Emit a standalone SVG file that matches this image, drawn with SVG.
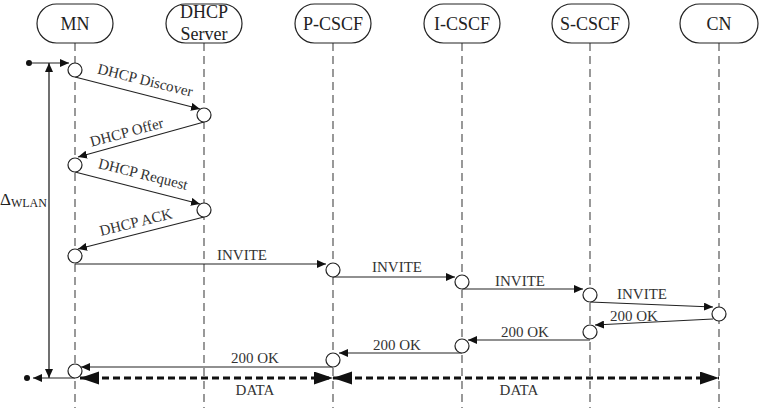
<svg xmlns="http://www.w3.org/2000/svg" width="760" height="408" viewBox="0 0 760 408">
<defs>
<style>
.box{fill:#fff;stroke:#222;stroke-width:1.2}
.hd{font-family:'Liberation Serif','DejaVu Serif','Times New Roman',serif;font-size:18px;fill:#222;text-anchor:middle}
.lbl{font-family:'Liberation Serif','DejaVu Serif','Times New Roman',serif;font-size:15px;fill:#333;text-anchor:middle}
.dl{font-family:'Liberation Serif','DejaVu Serif','Times New Roman',serif;fill:#222}
.life{stroke:#555;stroke-width:1.2;stroke-dasharray:8 5;fill:none}
.msg{stroke:#222;stroke-width:1.2;fill:none;marker-end:url(#a)}
.data{stroke:#111;stroke-width:3;stroke-dasharray:7 4;fill:none;marker-start:url(#b);marker-end:url(#b)}
.act{fill:#fff;stroke:#222;stroke-width:1.2}
</style>
<marker id="a" markerUnits="userSpaceOnUse" markerWidth="10" markerHeight="8" refX="9" refY="4" orient="auto-start-reverse"><path d="M0,0 L9,4 L0,8 z" fill="#111"/></marker>
<marker id="b" markerUnits="userSpaceOnUse" markerWidth="20" markerHeight="14" refX="19" refY="6.5" orient="auto-start-reverse"><path d="M0,0 L19,6.5 L0,13 z" fill="#111"/></marker>
</defs>
<g id="lifelines">
<line class="life" x1="75" y1="43" x2="75" y2="408"/>
<line class="life" x1="204" y1="43" x2="204" y2="408"/>
<line class="life" x1="333" y1="43" x2="333" y2="408"/>
<line class="life" x1="462" y1="43" x2="462" y2="408"/>
<line class="life" x1="590" y1="43" x2="590" y2="408"/>
<line class="life" x1="719" y1="43" x2="719" y2="408"/>
</g>
<g id="MN"><rect class="box" x="37" y="4" width="76" height="39" rx="19.5"/><text class="hd" x="75" y="30">MN</text></g>
<g id="DHCP"><rect class="box" x="166" y="4" width="76" height="39" rx="19.5"/><text class="hd" x="204" y="18">DHCP</text><text class="hd" x="204" y="40">Server</text></g>
<g id="PCSCF"><rect class="box" x="295" y="4" width="76" height="39" rx="19.5"/><text class="hd" x="333" y="30">P-CSCF</text></g>
<g id="ICSCF"><rect class="box" x="424" y="4" width="76" height="39" rx="19.5"/><text class="hd" x="462" y="30">I-CSCF</text></g>
<g id="SCSCF"><rect class="box" x="552" y="4" width="77" height="39" rx="19.5"/><text class="hd" x="590" y="30">S-CSCF</text></g>
<g id="CN"><rect class="box" x="680" y="4" width="78" height="39" rx="19.5"/><text class="hd" x="719" y="30">CN</text></g>
<g id="connectors">
<circle cx="29" cy="63" r="3" fill="#111"/>
<path class="msg" d="M29,63 L69,63"/>
<path d="M49,63 L49,378" stroke="#111" stroke-width="1.2" fill="none" marker-start="url(#a)" marker-end="url(#a)"/>
<path class="msg" d="M75,378 L33,378"/>
<circle cx="27" cy="378" r="3" fill="#111"/>
<path class="msg" d="M75,77 L200,109"/>
<path class="msg" d="M204,122 L78,157"/>
<path class="msg" d="M75,172 L200,204"/>
<path class="msg" d="M204,217 L78,249"/>
<path class="msg" d="M75,264 L326,264"/>
<path class="msg" d="M333,277 L455,277"/>
<path class="msg" d="M462,289 L583,289"/>
<path class="msg" d="M590,302 L713,307"/>
<path class="msg" d="M713,319 L595,325"/>
<path class="msg" d="M590,340 L468,340"/>
<path class="msg" d="M462,353 L339,353"/>
<path class="msg" d="M333,367 L81,367"/>
<path class="data" d="M80,378 L333,378"/>
<path class="data" d="M333,378 L719,378"/>
</g>
<g id="activations">
<circle class="act" cx="75" cy="70" r="7"/>
<circle class="act" cx="204" cy="115" r="7"/>
<circle class="act" cx="75" cy="165" r="7"/>
<circle class="act" cx="204" cy="210" r="7"/>
<circle class="act" cx="75" cy="256" r="7"/>
<circle class="act" cx="333" cy="270" r="7"/>
<circle class="act" cx="462" cy="282" r="7"/>
<circle class="act" cx="590" cy="295" r="7"/>
<circle class="act" cx="719" cy="314" r="7"/>
<circle class="act" cx="590" cy="332" r="7"/>
<circle class="act" cx="462" cy="346" r="7"/>
<circle class="act" cx="333" cy="360" r="7"/>
<circle class="act" cx="75" cy="371" r="7"/>
</g>
<g id="labels">
<text class="lbl" transform="translate(144,85) rotate(14)">DHCP Discover</text>
<text class="lbl" transform="translate(128,137) rotate(-15)">DHCP Offer</text>
<text class="lbl" transform="translate(142,179) rotate(14)">DHCP Request</text>
<text class="lbl" transform="translate(137,227) rotate(-14)">DHCP ACK</text>
<text class="lbl" x="242" y="260">INVITE</text>
<text class="lbl" x="397" y="272">INVITE</text>
<text class="lbl" x="520" y="286">INVITE</text>
<text class="lbl" x="642" y="299">INVITE</text>
<text class="lbl" x="634" y="321">200 OK</text>
<text class="lbl" x="525" y="337">200 OK</text>
<text class="lbl" x="397" y="350">200 OK</text>
<text class="lbl" x="255" y="363">200 OK</text>
<text class="lbl" x="255" y="395">DATA</text>
<text class="lbl" x="519" y="395">DATA</text>
<text class="dl" font-size="17" x="0" y="205">Δ<tspan font-size="12" dy="2">WLAN</tspan></text>
</g>
</svg>
